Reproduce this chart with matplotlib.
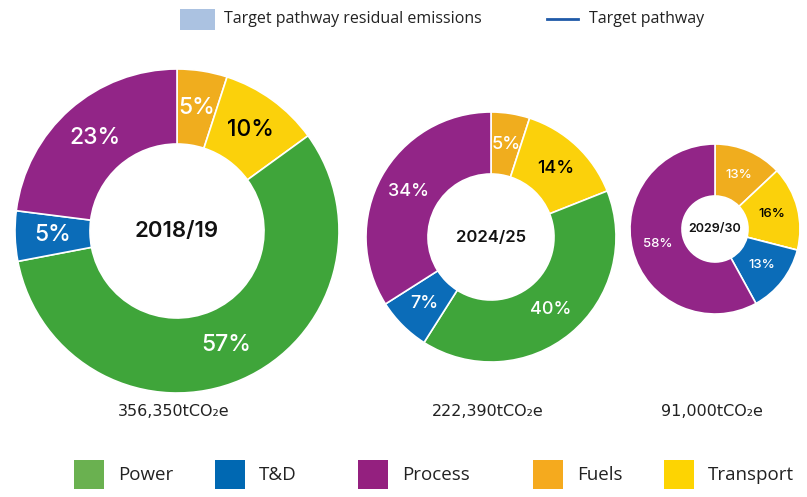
import matplotlib
matplotlib.use("Agg")
import matplotlib.pyplot as plt
from matplotlib.patches import Rectangle
import numpy as np

# data
sectors = ["Fuels", "Transport", "Power", "T&D", "Process"]
years = ["2018/19", "2024/25", "2029/30"]
totals = ["356,350tCO\u2082e", "222,390tCO\u2082e", "91,000tCO\u2082e"]
share_2018 = [5, 10, 57, 5, 23]
share_2024 = [5, 14, 40, 7, 34]
share_2029 = [13, 16, 0, 13, 58]

legend_names = ["Power", "T&D", "Process", "Fuels", "Transport"]

pie_colors = {"Fuels": "#f0ad1e", "Transport": "#fbd10b", "Power": "#3fa53a",
              "T&D": "#0b6cb8", "Process": "#922587"}
legend_colors = {"Fuels": "#f5aa1e", "Transport": "#fdd402", "Power": "#6ab150",
                 "T&D": "#0068b2", "Process": "#94207f"}
label_colors = {"Fuels": "white", "Transport": "black", "Power": "white",
                "T&D": "white", "Process": "white"}

W, H = 807, 497
fig = plt.figure(figsize=(W / 100, H / 100), dpi=100)
ax = fig.add_axes([0, 0, 1, 1])

# donut layout in pixels (y measured from top)
donuts = [
    dict(vals=share_2018, cx=177, cy=231, r=162, w=75, fs=16.5, cfs=16),
    dict(vals=share_2024, cx=491, cy=237, r=125, w=62, fs=13, cfs=12),
    dict(vals=share_2029, cx=715, cy=229, r=85, w=52, fs=9.5, cfs=9),
]

pct_font = ["Inter", "DejaVu Sans"]

for d, year, total in zip(donuts, years, totals):
    center = (d["cx"], H - d["cy"])
    wedges, _ = ax.pie(d["vals"], colors=[pie_colors[s] for s in sectors],
                       startangle=90, counterclock=False, radius=d["r"],
                       center=center, frame=True,
                       wedgeprops=dict(width=d["w"], edgecolor="white", linewidth=1.2))
    rl = d["r"] - d["w"] / 2
    for wdg, s, v in zip(wedges, sectors, d["vals"]):
        if v == 0:
            continue
        ang = np.deg2rad((wdg.theta1 + wdg.theta2) / 2)
        ax.text(center[0] + rl * np.cos(ang), center[1] + rl * np.sin(ang), f"{v}%",
                ha="center", va="center", fontsize=d["fs"], color=label_colors[s],
                family=pct_font, fontweight="medium")
    ax.text(center[0], center[1], year, ha="center", va="center", fontsize=d["cfs"],
            family=pct_font, fontweight="semibold", color="#111111")
    ax.text(d["cx"] - 3, H - 412, total, ha="center", va="center", fontsize=11.5,
            family=["DejaVu Sans"], color="#222222")

# top legend
ax.add_patch(Rectangle((180, H - 30), 35, 21, color="#abc2e1", lw=0))
ax.text(224, H - 19, "Target pathway residual emissions", ha="left", va="center",
        fontsize=11.5, family=["Open Sans", "DejaVu Sans"], color="#222222")
ax.plot([547, 578], [H - 19, H - 19], color="#1f5aa8", lw=2)
ax.text(589, H - 19, "Target pathway", ha="left", va="center",
        fontsize=11.5, family=["Open Sans", "DejaVu Sans"], color="#222222")

# bottom legend
leg_x = [74, 215, 358, 533, 664]
for x, name in zip(leg_x, legend_names):
    ax.add_patch(Rectangle((x, H - 489), 30, 29, color=legend_colors[name], lw=0))
    ax.text(x + 44, H - 475, name, ha="left", va="center", fontsize=13.5,
            family=["Open Sans", "DejaVu Sans"], color="#222222")

ax.set_xlim(0, W)
ax.set_ylim(0, H)
ax.set_aspect("equal")
ax.axis("off")

fig.savefig("out.png", dpi=100, facecolor="white")
